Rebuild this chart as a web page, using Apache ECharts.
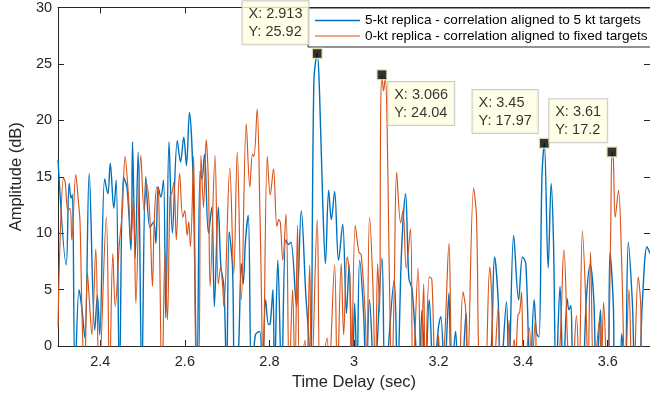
<!DOCTYPE html>
<html><head><meta charset="utf-8">
<script src="https://cdn.jsdelivr.net/npm/echarts@6/dist/echarts.min.js"></script>
<style>html,body{margin:0;padding:0;background:#fff}#c{width:650px;height:396px}</style>
</head><body><div id="c"></div>
<script>
// ---- data ----
const seriesNames = ['5-kt replica - correlation aligned to 5 kt targets', '0-kt replica - correlation aligned to fixed targets'];
const blueX = [2.3000,2.3193,2.3263,2.3310,2.3340,2.3403,2.3497,2.3559,2.3636,2.3737,2.3869,2.3932,2.3986,2.4103,2.4179,2.4235,2.4319,2.4375,2.4452,2.4545,2.4632,2.4725,2.4762,2.4825,2.4895,2.4981,2.5075,2.5175,2.5261,2.5315,2.5368,2.5431,2.5494,2.5548,2.5625,2.5704,2.5821,2.5897,2.5974,2.6037,2.6107,2.6193,2.6287,2.6359,2.6403,2.6464,2.6557,2.6636,2.6697,2.6790,2.6853,2.6923,2.6986,2.7047,2.7126,2.7179,2.7261,2.7336,2.7378,2.7436,2.7499,2.7576,2.7669,2.7769,2.7832,2.7909,2.7979,2.8019,2.8082,2.8119,2.8198,2.8287,2.8385,2.8455,2.8508,2.8641,2.8753,2.8858,2.8928,2.8974,2.9051,2.9130,2.9184,2.9261,2.9324,2.9401,2.9464,2.9541,2.9634,2.9732,2.9821,2.9883,2.9960,3.0016,3.0070,3.0133,3.0226,3.0287,3.0366,3.0483,3.0660,3.0739,3.0949,3.1026,3.1126,3.1219,3.1298,3.1375,3.1531,3.1608,3.1685,3.1779,3.1881,3.1998,3.2051,3.2145,3.2198,3.2245,3.2301,3.2401,3.2455,3.2520,3.2587,3.2650,3.2704,3.2890,3.3193,3.3326,3.3410,3.3466,3.3606,3.3660,3.3776,3.3893,3.3986,3.4063,3.4166,3.4259,3.4319,3.4375,3.4445,3.4500,3.4592,3.4662,3.4716,3.4779,3.4872,3.4949,3.5042,3.5082,3.5128,3.5182,3.5300,3.5415,3.5494,3.5587,3.5671,3.5727,3.5828,3.5867,3.5990,3.6054,3.6131,3.6177,3.6270,3.6333,3.6410,3.6487,3.6580,3.6660,3.6737,3.6814,3.6930,3.7000];
const blueY = [16.5,7.2,14.4,13.1,13.4,-3,5,3.5,0.7,15.3,1.4,4.5,1.0,14.8,13.5,16.2,12.2,14.7,-3,15.0,14.0,8.5,18.1,7.8,17.2,-3,15.0,10.5,11,9.1,14.1,13.2,14.7,2.5,18.1,10,18.2,16.3,18.5,16,20.7,15,-3,15.5,14.8,17.0,10,12.3,3.5,12.3,7,5.3,-3,10.1,7,-3,-1,7.3,5.5,9.5,11.6,-3,1.0,1.3,-3,4.1,1.9,2.0,5.0,-3,7.6,-3,9.4,9.0,9.2,3.5,12,4.7,0.8,-3,23.5,25.92,22.5,12.6,7.3,13.8,11.2,13.7,7.6,10.8,2.9,7.2,-3,3.8,-3,7.6,2.9,-3,4.1,-3,7.8,-3,5.8,-3,8.6,13.5,6.0,5,-3,3.2,-3,4.1,-3,1.7,2.6,-3,1.4,4.7,-3,1.3,-3,-5,-1,2.9,-3,-6,-3,7.9,4.0,-3,3.9,-3,9.8,4.1,7.9,7.3,-3,4.1,1.1,0.8,15,17.97,6.9,14.4,9.5,-3,5.3,-3,4.2,3.2,3.6,-3,-6,-3,4.1,7.2,4.1,-3,3.2,-3,-4,8.3,3.8,-3,-3,1.1,-3,9.2,4.1,-3,-3,3.5,8.8,8.2];
const orangeX = [2.3000,2.3054,2.3131,2.3170,2.3233,2.3287,2.3326,2.3420,2.3480,2.3520,2.3566,2.3625,2.3695,2.3741,2.3800,2.3893,2.3970,2.4142,2.4219,2.4296,2.4352,2.4452,2.4522,2.4585,2.4662,2.4725,2.4786,2.4841,2.4958,2.5035,2.5098,2.5168,2.5233,2.5275,2.5338,2.5378,2.5460,2.5531,2.5587,2.5648,2.5688,2.5741,2.5797,2.5874,2.5951,2.5998,2.6054,2.6091,2.6131,2.6207,2.6270,2.6324,2.6380,2.6441,2.6503,2.6557,2.6597,2.6713,2.6790,2.6846,2.6893,2.6923,2.7063,2.7156,2.7238,2.7336,2.7452,2.7536,2.7599,2.7634,2.7709,2.7774,2.7809,2.7849,2.7949,2.8019,2.8096,2.8175,2.8221,2.8259,2.8315,2.8392,2.8469,2.8548,2.8601,2.8664,2.8718,2.8841,2.8881,2.8951,2.8998,2.9130,2.9207,2.9364,2.9401,2.9541,2.9604,2.9697,2.9755,2.9837,2.9900,2.9937,3.0030,3.0117,3.0170,3.0268,3.0303,3.0366,3.0443,3.0506,3.0559,3.0606,3.0629,3.0660,3.0699,3.0739,3.0781,3.0828,3.0893,3.0949,3.1009,3.1103,3.1159,3.1235,3.1336,3.1392,3.1515,3.1578,3.1648,3.1685,3.1779,3.1841,3.1923,3.1998,3.2040,3.2138,3.2245,3.2324,3.2448,3.2576,3.2641,3.2681,3.2828,3.2897,3.2967,3.3077,3.3210,3.3256,3.3303,3.3410,3.3473,3.3566,3.3667,3.3706,3.3788,3.3823,3.3876,3.3918,3.3963,3.4016,3.4149,3.4189,3.4289,3.4329,3.4569,3.4809,3.4965,3.5042,3.5089,3.5140,3.5261,3.5322,3.5401,3.5494,3.5531,3.5594,3.5671,3.5804,3.5844,3.5904,3.5990,3.6070,3.6100,3.6131,3.6177,3.6254,3.6333,3.6410,3.6503,3.6566,3.6600,3.6720,3.6776,3.6830,3.7000];
const orangeY = [1.7,10,14.9,14.5,12,12.2,9.4,15.2,12.9,11,3,-3,6.5,4,1,8.6,-3,11.4,-3,8.2,3.5,9.1,12,16.8,13.5,9.4,13.2,3.8,16.9,12,14.4,11.7,5.3,11,14.1,13.8,-4,8.3,2.3,13.2,13.5,14.5,9.4,15.3,11.4,12,9.8,11,8.8,16.8,-3,-3,16.9,12.3,18.3,14.4,5.3,16.9,5.5,7.0,5.3,3.5,15.8,6.4,17.2,4.1,19.7,14.1,17.0,16.8,21.0,12,5,-3,16.8,13.4,15.7,10.6,11.2,10.9,7.6,11.7,-3,5.0,-3,10.7,-3,0.5,-3,7.2,-3,11.2,-3,0.7,-3,7.2,-3,7.3,1,7.9,6.3,-3,10.7,8.3,8.1,2.5,-3,11.4,5.8,-3,7.3,3,20,24.04,22.6,23.8,20,8,-3,4.7,15.4,10.9,12.0,6.9,10.4,-3,6.9,-3,5.5,-3,6.1,5.9,-3,1,-3,0.2,9.1,-3,-5,4.8,3.2,-3,14,11.4,-3,-5,7,4.4,-3,3.4,-3,-4,2.3,-3,0.6,-1,2.7,3,4.8,-3,1.6,-3,2.3,-3,-4,-3,8.5,1.1,-3,-4,2.7,-3,10.2,2.6,-3,8.3,-3,2.3,-3,3.9,-4,10,17.2,16.8,11.4,13.8,7,-3,5,-3,-4,6.1,4,-3,-3];
const tipX = [2.913, 3.066, 3.45, 3.61];
const tipY = [25.92, 24.04, 17.97, 17.2];
const xTicks = [2.4, 2.6, 2.8, 3, 3.2, 3.4, 3.6];
const yRange = [0, 30, 5];
const xRange = [2.3, 3.7];

// ---- build ----
const FONT = "'Liberation Sans', Arial, sans-serif";
const AX = '#262626';
const BLUE = '#0072BD', ORANGE = '#D95319';
const zip = (xs, ys) => xs.map((x, i) => [x, ys[i]]);
// label placement of each data tip (style only)
const tipPlace = [
  {position: [-69, -3.5], align: 'left', verticalAlign: 'bottom'},
  {position: [12, 13], align: 'left', verticalAlign: 'top'},
  {position: [-66, -4.5], align: 'left', verticalAlign: 'bottom'},
  {position: [-57, -4], align: 'left', verticalAlign: 'bottom'}
];
const tipData = tipX.map((x, i) => ({value: [x, tipY[i]], label: tipPlace[i]}));

function xAx(pos, labels) {
  return {
    type: 'value', position: pos, min: xRange[0], max: xRange[1],
    name: labels ? 'Time Delay (sec)' : '', nameLocation: 'middle', nameGap: 27,
    nameTextStyle: {fontFamily: FONT, fontSize: 16.5, color: AX},
    axisLine: {show: true, onZero: false, lineStyle: {color: AX, width: 1}},
    axisTick: {show: true, inside: true, length: 6, customValues: xTicks, lineStyle: {color: AX}},
    axisLabel: {show: labels, customValues: xTicks, margin: 8, fontFamily: FONT, fontSize: 14.5, color: AX},
    splitLine: {show: false}
  };
}
function yAx(pos, labels) {
  return {
    type: 'value', position: pos, min: yRange[0], max: yRange[1], interval: yRange[2],
    name: labels ? 'Amplitude (dB)' : '', nameLocation: 'middle', nameGap: 25,
    nameTextStyle: {fontFamily: FONT, fontSize: 16.5, color: AX},
    axisLine: {show: true, onZero: false, lineStyle: {color: AX, width: 1}},
    axisTick: {show: true, inside: true, length: 6, lineStyle: {color: AX}},
    axisLabel: {show: labels, margin: 6, fontFamily: FONT, fontSize: 14.5, color: AX},
    splitLine: {show: false}
  };
}

const chart = echarts.init(document.getElementById('c'), null, {renderer: 'canvas'});
chart.setOption({
  animation: false,
  backgroundColor: '#fff',
  grid: {left: 51, top: 7, width: 600, height: 339, containLabel: false},
  xAxis: [xAx('bottom', true), xAx('top', false)],
  yAxis: [yAx('left', true), yAx('right', false)],
  legend: {
    data: [
      {name: seriesNames[0], icon: 'path://M0,0H45V1.6H0Z'},
      {name: seriesNames[1], icon: 'path://M0,0H45V1.1H0Z'}
    ],
    orient: 'vertical', left: 308, top: 8,
    padding: [5.5, 12, 4, 7], itemGap: 1.5, itemWidth: 45, itemHeight: 14,
    borderColor: AX, borderWidth: 1, backgroundColor: '#fff', selectedMode: false,
    textStyle: {fontFamily: FONT, fontSize: 13.6, color: '#000'}
  },
  series: [
    {name: seriesNames[0], type: 'line', data: zip(blueX, blueY), symbol: 'none', smooth: 0.35,
     lineStyle: {color: BLUE, width: 1.4}, itemStyle: {color: BLUE}, z: 2},
    {name: seriesNames[1], type: 'line', data: zip(orangeX, orangeY), symbol: 'none', smooth: 0.35,
     lineStyle: {color: ORANGE, width: 1.15}, itemStyle: {color: ORANGE}, z: 3},
    {name: 'tips', type: 'scatter', data: tipData, symbol: 'rect', symbolSize: 10, z: 10, silent: true,
     itemStyle: {color: '#000', borderColor: '#F2F0C0', borderWidth: 1.5},
     label: {show: true, formatter: p => 'X: ' + p.value[0] + '\nY: ' + p.value[1],
       fontFamily: FONT, fontSize: 14.5, lineHeight: 18, color: '#000',
       backgroundColor: '#FFFFE1', borderColor: '#BDBDBD', borderWidth: 1, padding: [4, 6, 3, 6]}}
  ]
});
</script></body></html>
